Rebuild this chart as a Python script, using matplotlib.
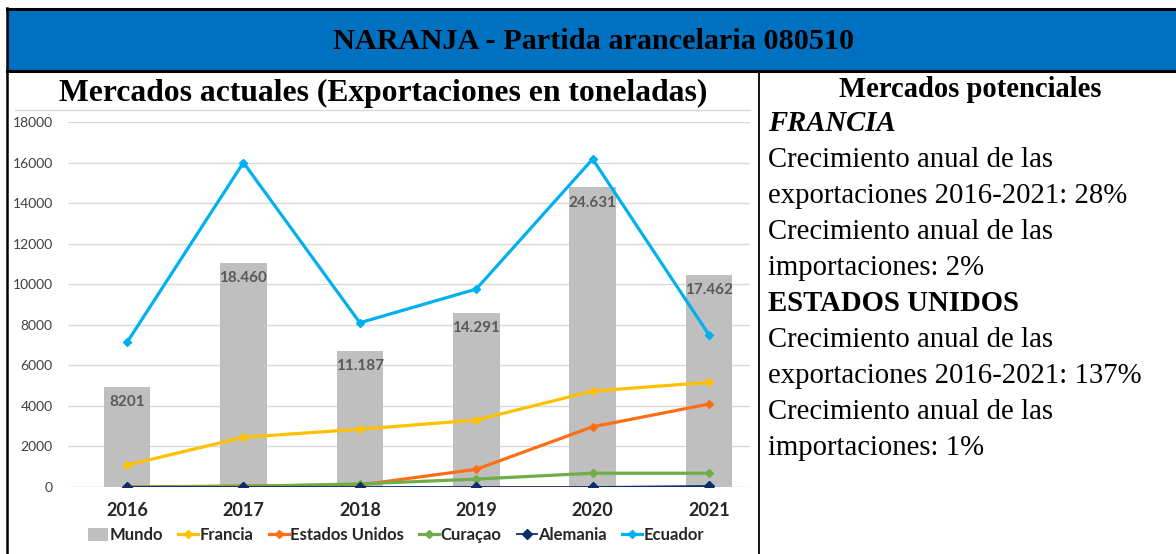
import matplotlib
matplotlib.use("Agg")
import matplotlib.pyplot as plt
from matplotlib.lines import Line2D
from matplotlib.patches import Patch, Rectangle

# data
years = ['2016', '2017', '2018', '2019', '2020', '2021']
mundo = [4930, 11050, 6720, 8590, 14780, 10450]
mundo_labels = ['8201', '18.460', '11.187', '14.291', '24.631', '17.462']
francia = [1080, 2450, 2850, 3300, 4730, 5160]
estados_unidos = [0, 50, 100, 870, 2970, 4090]
curacao = [0, 30, 150, 390, 680, 680]
alemania = [0, 0, 0, 0, 0, 50]
ecuador = [7130, 16000, 8100, 9760, 16170, 7500]
yticks = [0, 2000, 4000, 6000, 8000, 10000, 12000, 14000, 16000, 18000]

titulo = 'NARANJA - Partida arancelaria 080510'
titulo_izq = 'Mercados actuales (Exportaciones en toneladas)'
titulo_der = 'Mercados potenciales'
texto_der = [
    ('FRANCIA', 'bold', 'italic'),
    ('Crecimiento anual de las', 'normal', 'normal'),
    ('exportaciones 2016-2021: 28%', 'normal', 'normal'),
    ('Crecimiento anual de las', 'normal', 'normal'),
    ('importaciones: 2%', 'normal', 'normal'),
    ('ESTADOS UNIDOS', 'bold', 'normal'),
    ('Crecimiento anual de las', 'normal', 'normal'),
    ('exportaciones 2016-2021: 137%', 'normal', 'normal'),
    ('Crecimiento anual de las', 'normal', 'normal'),
    ('importaciones: 1%', 'normal', 'normal'),
]

W, H = 1176, 554
fig = plt.figure(figsize=(W / 100, H / 100), dpi=100)
fig.patch.set_facecolor('white')

# overlay in pixel coordinates for the boxes and the text
bg = fig.add_axes([0, 0, 1, 1])
bg.set_xlim(0, W)
bg.set_ylim(H, 0)
bg.axis('off')

bg.add_patch(Rectangle((7, 9), W - 7, 61, facecolor='#0070C0', edgecolor='none'))
bg.plot([7, W], [9, 9], color='black', lw=2.2)
bg.plot([7, W], [71, 71], color='black', lw=2.2)
bg.plot([7, 7], [8, H], color='black', lw=1.8)
bg.plot([759, 759], [71, H], color='black', lw=1.3)
bg.plot([15, 750], [110, 110], color='#D9D9D9', lw=1)

serif = 'Liberation Serif'
r = fig.canvas.get_renderer()


def fit(t, width):
    bb = t.get_window_extent(renderer=r)
    t.set_fontsize(t.get_fontsize() * width / bb.width)


t = bg.text(594, 49, titulo, ha='center', va='baseline', family=serif,
            weight='bold', fontsize=20)
fit(t, 521)
t = bg.text(383, 101, titulo_izq, ha='center', va='baseline', family=serif,
            weight='bold', fontsize=20)
fit(t, 647)
t = bg.text(970, 97, titulo_der, ha='center', va='baseline', family=serif,
            weight='bold', fontsize=16)
fit(t, 263)

size_body = None
for i, (txt, w, st) in enumerate(texto_der):
    t = bg.text(768, 131 + 36 * i, txt, ha='left', va='baseline', family=serif,
                weight=w, style=st, fontsize=16)
    if txt == 'exportaciones 2016-2021: 28%':
        fit(t, 360)
        size_body = t.get_fontsize()
for t in bg.texts[3:]:
    t.set_fontsize(size_body)

# chart
ax = fig.add_axes([68 / W, (H - 487) / H, 682 / W, 365 / H])
ax.patch.set_alpha(0)
x = list(range(len(years)))
sans = 'Lato'

bars = ax.bar(x, mundo, width=0.40, color='#BFBFBF', zorder=2)
for xi, v, lab in zip(x, mundo, mundo_labels):
    ax.annotate(lab, (xi, v), xytext=(0, -6), textcoords='offset points',
                ha='center', va='top', fontsize=11, weight='bold',
                color='#595959', family=sans, zorder=3)

series = [
    ('Francia', francia, '#FFC000', 2.3, 4.5),
    ('Estados Unidos', estados_unidos, '#FF6D17', 2.3, 4.5),
    ('Curaçao', curacao, '#70AD47', 2.3, 4.5),
    ('Alemania', alemania, '#0B2D6B', 1.3, 5.5),
    ('Ecuador', ecuador, '#00B0F0', 2.3, 4.5),
]
handles = [Patch(facecolor='#BFBFBF', label='Mundo')]
for name, vals, col, lw, ms in series:
    ax.plot(x, vals, color=col, lw=lw, marker='D', ms=ms, zorder=4)
    handles.append(Line2D([], [], color=col, lw=lw, marker='D', ms=ms, label=name))

ax.set_xlim(-0.507, 5.352)
ax.set_ylim(0, 18000)
ax.set_yticks(yticks)
ax.set_yticklabels([str(v) for v in yticks], family=sans, fontsize=10, color='#404040')
ax.set_xticks(x)
ax.set_xticklabels(years, family=sans, fontsize=13, weight='bold', color='#262626')
ax.tick_params(length=0)
ax.tick_params(axis='y', pad=11)
ax.tick_params(axis='x', pad=11)
ax.grid(axis='y', color='#D9D9D9', lw=1)
ax.set_axisbelow(True)
for s in ax.spines.values():
    s.set_visible(False)

leg = ax.legend(handles=handles, ncol=6, loc='center', bbox_to_anchor=(0.481, -0.132),
                frameon=False, prop={'family': sans, 'weight': 'bold', 'size': 12},
                handlelength=1.2, handletextpad=0.1, columnspacing=0.9,
                handleheight=0.8, labelcolor='#262626')

fig.savefig('out.png', dpi=100)
